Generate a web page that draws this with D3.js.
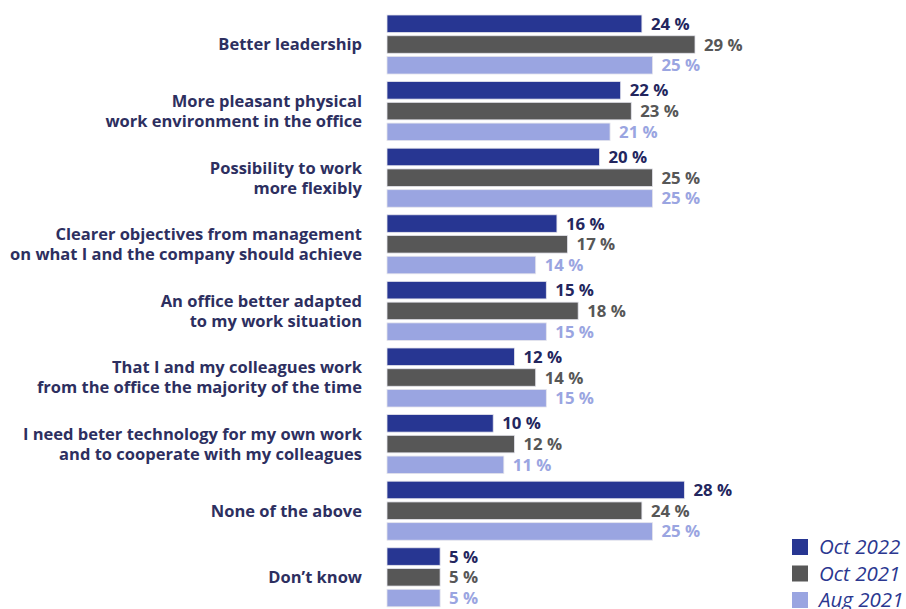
<!DOCTYPE html>
<html>
<head>
<meta charset="utf-8">
<script src="https://cdn.jsdelivr.net/npm/d3@7"></script>
<style>
  html, body { margin: 0; padding: 0; background: #fff; }
  svg { display: block; font-family: "Open Sans", "Noto Sans", sans-serif; }
</style>
</head>
<body>
<svg id="chart" width="906" height="609"></svg>
<script>
// Survey answers, one group of three bars per answer
const categories = [
  ["Better leadership"],
  ["More pleasant physical", "work environment in the office"],
  ["Possibility to work", "more flexibly"],
  ["Clearer objectives from management", "on what I and the company should achieve"],
  ["An office better adapted", "to my work situation"],
  ["That I and my colleagues work", "from the office the majority of the time"],
  ["I need beter technology for my own work", "and to cooperate with my colleagues"],
  ["None of the above"],
  ["Don\u2019t know"]
];
const seriesNames = ["Oct 2022", "Oct 2021", "Aug 2021"];
const oct2022 = [24, 22, 20, 16, 15, 12, 10, 28, 5];
const oct2021 = [29, 23, 25, 17, 18, 14, 12, 24, 5];
const aug2021 = [25, 21, 25, 14, 15, 15, 11, 25, 5];

const seriesValues = [oct2022, oct2021, aug2021];
const barColors = ["#273692", "#575757", "#9aa5e1"];
const labelColors = ["#23265e", "#575757", "#9aa5e1"];

const svg = d3.select("#chart");

const x = d3.scaleLinear().domain([0, 29]).range([387, 695]);

const y = d3.scaleBand()
  .domain(d3.range(categories.length))
  .range([15, 606.8])
  .paddingInner(0.114)
  .paddingOuter(0);

const ySub = d3.scaleBand()
  .domain(d3.range(seriesNames.length))
  .range([0, y.bandwidth()])
  .paddingInner(0.155)
  .paddingOuter(0);

const groups = svg.append("g")
  .selectAll("g")
  .data(categories)
  .join("g")
  .attr("transform", (d, i) => `translate(0,${y(i)})`);

// bars with their value labels, then the answer text
groups.each(function(cat, i) {
  const g = d3.select(this);
  seriesValues.forEach((vals, s) => {
    g.append("rect")
      .attr("x", x(0))
      .attr("y", ySub(s))
      .attr("width", x(vals[i]) - x(0))
      .attr("height", ySub.bandwidth())
      .attr("fill", barColors[s])
      .attr("stroke", "#e4e4ec")
      .attr("stroke-width", 0.8);
    g.append("text")
      .attr("x", x(vals[i]) + 9)
      .attr("y", ySub(s) + ySub.bandwidth() / 2)
      .attr("dy", "0.36em")
      .attr("fill", labelColors[s])
      .attr("font-size", 16.8)
      .attr("font-weight", 700)
      .text(vals[i] + " %");
  });

  // answer label, centred on the group
  const lineH = 20;
  const cy = y.bandwidth() / 2;
  const t = g.append("text")
    .attr("text-anchor", "end")
    .attr("fill", "#2d2f60")
    .attr("font-size", 16.5)
    .attr("font-weight", 700);
  cat.forEach((line, k) => {
    t.append("tspan")
      .attr("x", 362)
      .attr("y", cy + (k - (cat.length - 1) / 2) * lineH)
      .attr("dy", "0.36em")
      .text(line);
  });
});

// legend
const legend = svg.append("g").attr("transform", "translate(792,539)");
seriesNames.forEach((name, s) => {
  const row = legend.append("g").attr("transform", `translate(0,${s * 26.5})`);
  row.append("rect")
    .attr("width", 16).attr("height", 16)
    .attr("fill", barColors[s]);
  row.append("text")
    .attr("x", 27).attr("y", 8)
    .attr("dy", "0.36em")
    .attr("fill", "#2b3790")
    .attr("font-size", 20.5)
    .attr("font-style", "italic")
    .text(name);
});
</script>
</body>
</html>
